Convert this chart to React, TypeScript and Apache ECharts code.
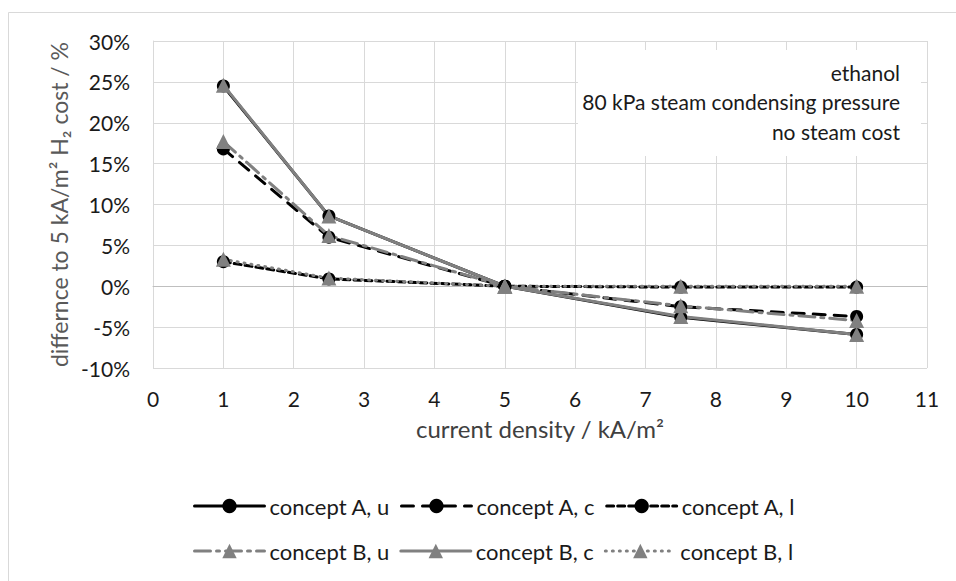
import React, { useEffect, useRef } from "react";
import * as echarts from "echarts";

const currentDensity = [1, 2.5, 5, 7.5, 10];
const conceptAu = [24.5, 8.6, 0, -3.8, -5.9];
const conceptAc = [16.8, 6.0, 0, -2.5, -3.7];
const conceptAl = [3.0, 0.9, 0, -0.1, -0.1];
const conceptBu = [17.7, 6.2, 0, -2.4, -4.2];
const conceptBc = [24.6, 8.6, 0, -3.7, -5.9];
const conceptBl = [3.3, 1.0, 0, 0, 0];
const seriesNames = [
  "concept A, u",
  "concept A, c",
  "concept A, l",
  "concept B, u",
  "concept B, c",
  "concept B, l",
];
const annotationLines = ["ethanol", "80 kPa steam condensing pressure", "no steam cost"];
const xAxisTitle = "current density / kA/m\u00b2";
const yAxisTitle = "differnce to 5 kA/m\u00b2 H\u2082 cost / %";

const FONT = "Lato, 'Open Sans', sans-serif";
const BLACK = "#000000";
const GRAY = "#808080";

export default function App() {
  const ref = useRef<HTMLDivElement>(null);
  useEffect(() => {
    document.body.style.margin = "0";
    const chart = echarts.init(ref.current!, null, { renderer: "svg" });
    const toPts = (vals: number[]) => currentDensity.map((x, i) => [x, vals[i]]);
    const mk = (
      name: string,
      vals: number[],
      color: string,
      type: any,
      symbol: string,
      symbolSize: number
    ) => ({
      name,
      type: "line",
      data: toPts(vals),
      symbol,
      symbolSize,
      showSymbol: true,
      itemStyle: { color, borderWidth: 0 },
      lineStyle: { color, width: 3, type, cap: "round" },
    });
    const legendCommon = {
      left: 188,
      itemWidth: 70,
      itemHeight: 18,
      itemGap: 10,
      lineStyle: { width: 3 },
      textStyle: { fontSize: 22, fontFamily: FONT, color: "#1a1a1a" },
    };
    chart.setOption({
      animation: false,
      grid: { left: 153, right: 29, top: 41, bottom: 213, containLabel: false },
      xAxis: {
        type: "value",
        min: 0,
        max: 11,
        interval: 1,
        name: xAxisTitle,
        nameLocation: "middle",
        nameGap: 48,
        nameTextStyle: { fontSize: 24, fontFamily: FONT, color: "#404040" },
        axisLine: { show: true, lineStyle: { color: "#bfbfbf", width: 1 } },
        axisTick: { show: false },
        axisLabel: { fontSize: 21, fontFamily: FONT, color: "#1a1a1a", margin: 20 },
        splitLine: { show: true, lineStyle: { color: "#d9d9d9", width: 1 } },
      },
      yAxis: {
        type: "value",
        min: -10,
        max: 30,
        interval: 5,
        name: yAxisTitle,
        nameLocation: "middle",
        nameRotate: 90,
        nameGap: 78,
        nameTextStyle: { fontSize: 23, fontFamily: FONT, color: "#595959" },
        axisLine: { show: true, onZero: false, lineStyle: { color: "#d9d9d9", width: 1 } },
        axisTick: { show: false },
        axisLabel: {
          fontSize: 21,
          fontFamily: FONT,
          color: "#1a1a1a",
          margin: 23,
          formatter: (v: number) => `${v}%`,
        },
        splitLine: { show: true, lineStyle: { color: "#d9d9d9", width: 1 } },
      },
      legend: [
        { ...legendCommon, top: 490, data: seriesNames.slice(0, 3) },
        { ...legendCommon, top: 535, data: seriesNames.slice(3) },
      ],
      graphic: [
        {
          type: "line",
          shape: { x1: 8.5, y1: 12.5, x2: 8.5, y2: 581 },
          style: { stroke: "#d9d9d9", lineWidth: 1 },
          silent: true,
        },
        {
          type: "line",
          shape: { x1: 8.5, y1: 12.5, x2: 956, y2: 12.5 },
          style: { stroke: "#d9d9d9", lineWidth: 1 },
          silent: true,
        },
        {
          type: "rect",
          shape: { x: 578, y: 50, width: 343, height: 106 },
          style: { fill: "#ffffff" },
          z: 5,
          silent: true,
        },
        ...annotationLines.map((t, i) => ({
          type: "text",
          x: 900,
          y: 72 + i * 29.5,
          z: 6,
          silent: true,
          style: {
            text: t,
            align: "right",
            verticalAlign: "middle",
            fontSize: 21,
            fontFamily: FONT,
            fill: "#1a1a1a",
          },
        })),
      ],
      series: [
        mk(seriesNames[0], conceptAu, BLACK, "solid", "circle", 13),
        mk(seriesNames[1], conceptAc, BLACK, [12, 9], "circle", 13),
        mk(seriesNames[2], conceptAl, BLACK, [7, 4], "circle", 13),
        mk(seriesNames[3], conceptBu, GRAY, [16, 6, 3, 6], "triangle", 15),
        mk(seriesNames[4], conceptBc, GRAY, "solid", "triangle", 15),
        mk(seriesNames[5], conceptBl, GRAY, [1, 6], "triangle", 15),
      ],
    });
    return () => chart.dispose();
  }, []);
  return <div ref={ref} style={{ width: 956, height: 581 }} />;
}
